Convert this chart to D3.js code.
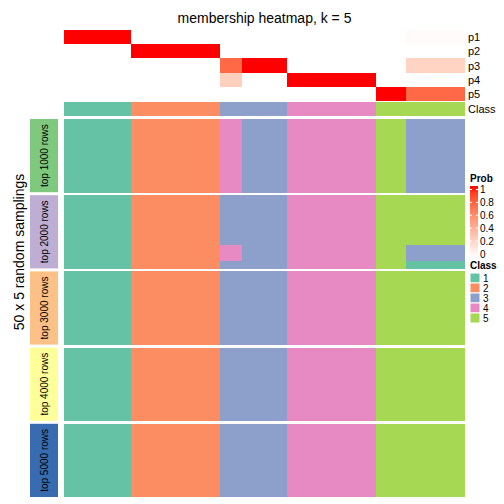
<!DOCTYPE html>
<html><head><meta charset="utf-8">
<script src="https://cdn.jsdelivr.net/npm/d3@7"></script>
<style>body{margin:0;background:#fff}svg{display:block;font-family:"Liberation Sans",Arial,Helvetica,sans-serif}</style>
</head><body><svg id="c" width="504" height="504"></svg>
<script>
// ---- data ----
const blockSizes = [9, 12, 3, 6, 12, 4, 8];          // samples per column block
const probRows = ["p1", "p2", "p3", "p4", "p5"];
const p1 = [1, 0, 0, 0, 0, 0, 0.02];
const p2 = [0, 1, 0, 0, 0, 0, 0];
const p3 = [0, 0, 0.75, 1, 0, 0, 0.23];
const p4 = [0, 0, 0.25, 0, 1, 0, 0];
const p5 = [0, 0, 0, 0, 0, 1, 0.75];
const blockClass = [1, 2, 3, 3, 4, 5, 5];
const groups = ["top 1000 rows", "top 2000 rows", "top 3000 rows", "top 4000 rows", "top 5000 rows"];
const groupColors = ["#7FC97F", "#BEAED4", "#FDC086", "#FFFF99", "#386CB0"];
// per group: [number of samplings, class of each column block]
const top1000 = [[50, [1, 2, 4, 3, 4, 5, 3]]];
const top2000 = [[34, [1, 2, 3, 3, 4, 5, 5]], [11, [1, 2, 4, 3, 4, 5, 3]], [5, [1, 2, 3, 3, 4, 5, 1]]];
const top3000 = [[50, [1, 2, 3, 3, 4, 5, 5]]];
const top4000 = [[50, [1, 2, 3, 3, 4, 5, 5]]];
const top5000 = [[50, [1, 2, 3, 3, 4, 5, 5]]];
const classes = [1, 2, 3, 4, 5];
const classColors = ["#66C2A5", "#FC8D62", "#8DA0CB", "#E78AC3", "#A6D854"];
const probTicks = [0, 0.2, 0.4, 0.6, 0.8, 1];

// ---- derived ----
const blockOfSample = blockSizes.flatMap((n, b) => d3.range(n).map(() => b));
const nS = blockOfSample.length;
const probData = {p1, p2, p3, p4, p5};
const groupPatterns = [top1000, top2000, top3000, top4000, top5000];

const svg = d3.select("#c");
const L = 64, R = 465;
const x = d3.scaleBand().domain(d3.range(nS)).range([L, R]);
const yP = d3.scaleBand().domain(probRows).range([30, 101]);
const probCol = d3.scaleLinear().domain([0, 1]).range(["white", "red"]).interpolate(d3.interpolateLab);
const classCol = d3.scaleOrdinal().domain(classes).range(classColors);

const crisp = g => g.attr("shape-rendering", "crispEdges");

// title
svg.append("text").attr("x", (L + R) / 2).attr("y", 23).attr("text-anchor", "middle")
  .attr("font-size", 14).text("membership heatmap, k = 5");

// membership rows
const gp = svg.append("g").call(crisp);
probRows.forEach(r => {
  gp.selectAll(null).data(d3.range(nS)).join("rect")
    .attr("x", i => x(i)).attr("width", i => x.bandwidth() + 0.3)
    .attr("y", yP(r)).attr("height", yP.bandwidth() + 0.3)
    .attr("fill", i => probCol(probData[r][blockOfSample[i]]));
  svg.append("text").attr("x", 468).attr("y", yP(r) + yP.bandwidth() / 2)
    .attr("dominant-baseline", "central").attr("font-size", 11).text(r);
});
// class bar
gp.selectAll(null).data(d3.range(nS)).join("rect")
  .attr("x", i => x(i)).attr("width", x.bandwidth() + 0.3)
  .attr("y", 102).attr("height", 13.5)
  .attr("fill", i => classCol(blockClass[blockOfSample[i]]));
svg.append("text").attr("x", 468).attr("y", 108.75).attr("dominant-baseline", "central")
  .attr("font-size", 11).text("Class");

// body
const yG = d3.scaleBand().domain(groups).range([119, 497]).paddingInner(3 / 76.2);
const gb = svg.append("g").call(crisp);
groups.forEach((gname, gi) => {
  const rowsCls = groupPatterns[gi].flatMap(([n, cls]) => d3.range(n).map(() => cls));
  const yR = d3.scaleBand().domain(d3.range(rowsCls.length)).range([yG(gname), yG(gname) + yG.bandwidth()]);
  const cells = [];
  rowsCls.forEach((cls, r) => d3.range(nS).forEach(i => cells.push({r, i, c: cls[blockOfSample[i]]})));
  gb.selectAll(null).data(cells).join("rect")
    .attr("x", d => x(d.i)).attr("width", x.bandwidth() + 0.3)
    .attr("y", d => yR(d.r)).attr("height", yR.bandwidth() + 0.3)
    .attr("fill", d => classCol(d.c));
  // strip
  svg.append("rect").attr("x", 30).attr("width", 28).attr("y", yG(gname)).attr("height", yG.bandwidth())
    .attr("fill", groupColors[gi]);
  const cy = yG(gname) + yG.bandwidth() / 2;
  svg.append("text").attr("transform", `translate(44,${cy}) rotate(-90)`)
    .attr("text-anchor", "middle").attr("dominant-baseline", "central").attr("font-size", 10).text(gname);
});

// y label
svg.append("text").attr("transform", "translate(19,252) rotate(-90)").attr("text-anchor", "middle")
  .attr("dominant-baseline", "central").attr("font-size", 14).text("50 x 5 random samplings");

// Prob legend
const lg = svg.append("g");
lg.append("text").attr("x", 470).attr("y", 182).attr("font-size", 10).attr("font-weight", "bold").text("Prob");
const yL = d3.scaleLinear().domain([0, 1]).range([254, 189.5]);
const grad = svg.append("defs").append("linearGradient").attr("id", "pg").attr("x1", 0).attr("y1", 1).attr("x2", 0).attr("y2", 0);
d3.range(0, 1.01, 0.1).forEach(t => grad.append("stop").attr("offset", t).attr("stop-color", probCol(t)));
lg.append("rect").attr("x", 470).attr("y", 186).attr("width", 8).attr("height", 71).attr("fill", "url(#pg)");
probTicks.forEach(t => {
  lg.append("line").attr("x1", 470).attr("x2", 472).attr("y1", yL(t)).attr("y2", yL(t)).attr("stroke", "white").attr("stroke-width", 1);
  lg.append("line").attr("x1", 476).attr("x2", 478).attr("y1", yL(t)).attr("y2", yL(t)).attr("stroke", "white").attr("stroke-width", 1);
  lg.append("text").attr("x", 480).attr("y", yL(t)).attr("dominant-baseline", "central").attr("font-size", 10).text(String(t));
});

// Class legend
lg.append("text").attr("x", 470).attr("y", 269).attr("font-size", 10).attr("font-weight", "bold").text("Class");
const yC = d3.scaleBand().domain(classes).range([273, 323]);
classes.forEach(c => {
  lg.append("rect").attr("x", 470).attr("y", yC(c)).attr("width", 10).attr("height", yC.bandwidth())
    .attr("fill", classCol(c)).attr("stroke", "white").attr("stroke-width", 1);
  lg.append("text").attr("x", 483).attr("y", yC(c) + yC.bandwidth() / 2).attr("dominant-baseline", "central")
    .attr("font-size", 10).text(String(c));
});
</script></body></html>
